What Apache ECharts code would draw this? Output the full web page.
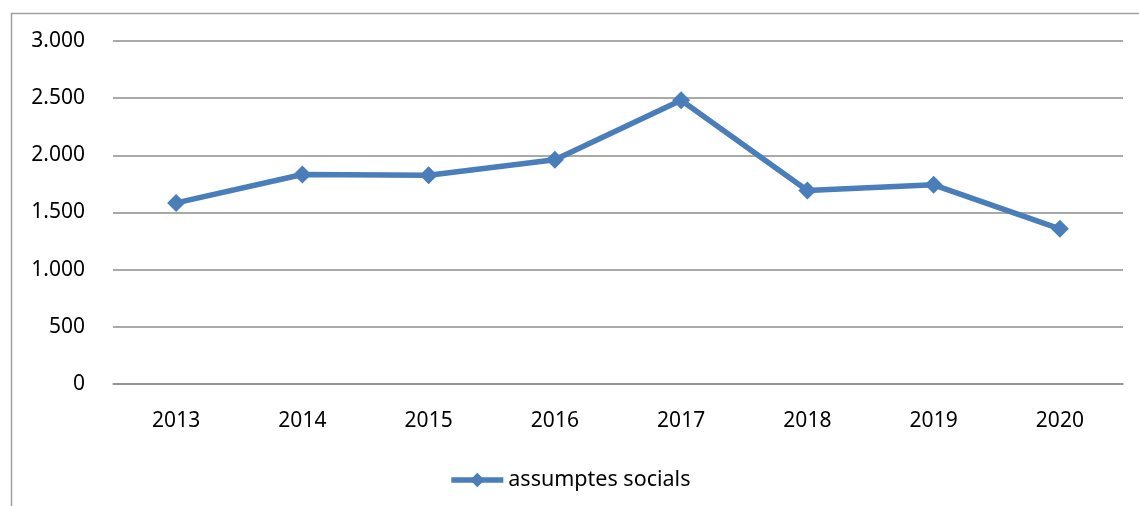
<!DOCTYPE html>
<html><head><meta charset="utf-8">
<script src="https://cdn.jsdelivr.net/npm/echarts@6/dist/echarts.min.js"></script>
<style>html,body{margin:0;padding:0;background:#fff}#c{width:1139px;height:506px}</style>
</head><body><div id="c"></div>
<script>
const categories = ['2013','2014','2015','2016','2017','2018','2019','2020'];
const seriesName = 'assumptes socials';
const values = [1584, 1832, 1826, 1962, 2482, 1692, 1742, 1357];
const chart = echarts.init(document.getElementById('c'));
const font = 'Noto Sans';
chart.setOption({
  animation: false,
  graphic: [{type:'rect', left:9, top:11, shape:{width:1140, height:500}, style:{fill:'none', stroke:'#a0a0a0', lineWidth:1.5}, silent:true}],
  grid: {left:113, right:16, top:41, bottom:122},
  legend: {top:464, left:'center', itemWidth:52, itemHeight:18, itemGap:8,
    lineStyle:{width:5.5}, textStyle:{fontFamily:font, fontSize:21.5, color:'#000'},
    data:[{name:seriesName, lineStyle:{width:5.5}}]},
  xAxis: {type:'category', data:categories, boundaryGap:true,
    axisLine:{lineStyle:{color:'#8c8c8c', width:1.5}}, axisTick:{show:false},
    axisLabel:{fontFamily:font, fontSize:21, color:'#000', margin:27}},
  yAxis: {type:'value', min:0, max:3000, interval:500,
    axisLine:{show:false}, axisTick:{show:false},
    splitLine:{lineStyle:{color:'#8c8c8c', width:1.5}},
    axisLabel:{fontFamily:font, fontSize:21, color:'#000', margin:28,
      formatter: v => v >= 1000 ? Math.floor(v/1000) + '.' + String(v%1000).padStart(3,'0') : String(v)}},
  series: [{name:seriesName, type:'line', data:values, symbol:'diamond', symbolSize:18,
    lineStyle:{color:'#4a7ebb', width:5.5}, itemStyle:{color:'#4a7ebb'}}]
});
</script></body></html>
